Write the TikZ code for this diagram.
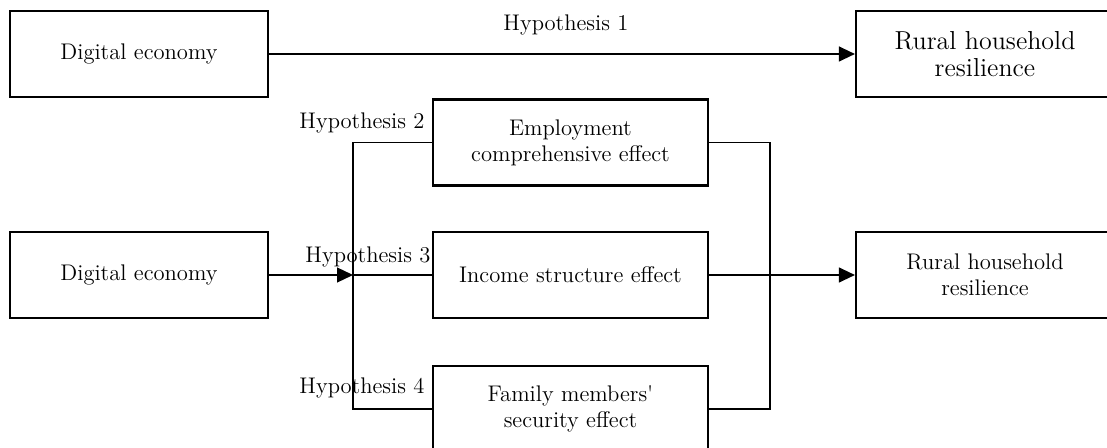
\documentclass[tikz,border=0pt]{standalone}
\usetikzlibrary{arrows.meta}

\begin{document}
\begin{tikzpicture}[
  x=0.5pt,y=-0.5pt,
  box/.style={draw,line width=1.1pt,align=center,minimum width=129pt,minimum height=43pt,inner sep=2pt,font=\fontsize{11.3}{13}\selectfont},
  effect/.style={box,minimum width=137.5pt},
  hyp/.style={inner sep=0pt,font=\fontsize{11.3}{13}\selectfont},
  link/.style={line width=0.6pt},
  arr/.style={link,-{Triangle[length=8pt,width=7.5pt]}}
]
\useasboundingbox (0,0) rectangle (1107,448);
% direct effect
\node[box] (de1) at (139,54) {Digital economy};
\node[box,font=\fontsize{13}{13.5}\selectfont] (rhr1) at (985,54) {Rural household\\resilience};
\node[hyp] (h1) at (566,25) {Hypothesis 1};
\draw[arr] (de1) -- (rhr1);
% mediating effects
\node[box] (de2) at (139,275) {Digital economy};
\node[effect] (emp) at (570.5,142.5) {Employment\\comprehensive effect};
\node[effect] (inc) at (570.5,275) {Income structure effect};
\node[effect] (fam) at (570.5,409) {Family members\textquotesingle\\security effect};
\node[box] (rhr2) at (985,275) {Rural household\\resilience};
\coordinate (split) at (353,275);
\coordinate (merge) at (770,275);
\draw[link] (emp.west) -| (split) |- (fam.west);
\draw[link] (split) -- (inc.west);
\draw[link] (emp.east) -| (merge) |- (fam.east);
\draw[link] (inc.east) -- (merge);
\draw[arr] (de2) -- (split);
\draw[arr] (merge) -- (rhr2);
\node[hyp] (h2) at (362,123) {Hypothesis 2};
\node[hyp] (h3) at (368,257) {Hypothesis 3};
\node[hyp] (h4) at (362,388) {Hypothesis 4};
\end{tikzpicture}
\end{document}
